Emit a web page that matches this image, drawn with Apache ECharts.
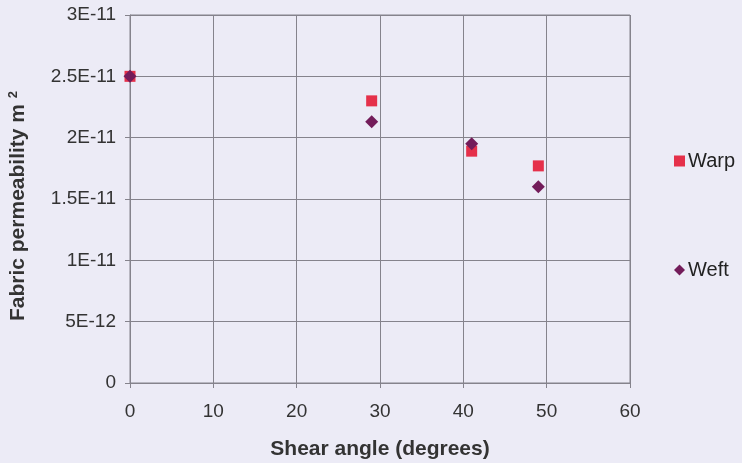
<!DOCTYPE html>
<html>
<head>
<meta charset="utf-8">
<script src="https://cdn.jsdelivr.net/npm/echarts@6/dist/echarts.min.js"></script>
<style>
  html, body { margin: 0; padding: 0; background: #ecebf6; }
  #chart { width: 742px; height: 463px; }
</style>
</head>
<body>
<div id="chart"></div>
<script>
// shear angle (degrees) and permeability (m^2)
const warpAngles = [0, 29, 41, 49];
const warpValues = [2.5e-11, 2.3e-11, 1.89e-11, 1.77e-11];
const weftAngles = [0, 29, 41, 49];
const weftValues = [2.5e-11, 2.13e-11, 1.95e-11, 1.6e-11];
const yTickLabels = ['0', '5E-12', '1E-11', '1.5E-11', '2E-11', '2.5E-11', '3E-11'];

const toPairs = (xs, ys) => xs.map((x, i) => [x, ys[i]]);

const chart = echarts.init(document.getElementById('chart'));
const font = 'Liberation Sans, Arial, sans-serif';
const gridColor = '#85838c';

chart.setOption({
  backgroundColor: '#ecebf6',
  animation: false,
  textStyle: { fontFamily: font },
  grid: {
    left: 130, right: 112, top: 15, bottom: 80,
    outerBoundsMode: 'none',
    show: true, borderColor: gridColor, borderWidth: 1
  },
  legend: {
    orient: 'vertical',
    left: 669,
    top: 146,
    itemGap: 89,
    itemWidth: 11,
    itemHeight: 11,
    textStyle: { fontSize: 20, color: '#222', fontFamily: font, padding: [0, 0, 0, -2] },
    data: [
      { name: 'Warp', icon: 'rect' },
      { name: 'Weft', icon: 'diamond' }
    ]
  },
  xAxis: {
    type: 'value',
    min: 0, max: 60, interval: 10,
    name: 'Shear angle (degrees)',
    nameLocation: 'middle',
    nameGap: 56,
    nameTextStyle: { fontSize: 21, fontWeight: 'bold', color: '#333', fontFamily: font },
    axisLine: { lineStyle: { color: gridColor } },
    axisTick: { show: true, length: 5, lineStyle: { color: gridColor } },
    axisLabel: { fontSize: 19, color: '#333', margin: 19, fontFamily: font },
    splitLine: { lineStyle: { color: gridColor, width: 1 } }
  },
  yAxis: {
    type: 'value',
    min: 0, max: 3e-11, interval: 5e-12,
    name: '{a|Fabric permeability m }{s|2}',
    nameLocation: 'middle',
    nameGap: 100,
    nameTextStyle: {
      padding: [0, 14, 0, 0],
      rich: {
        a: { fontSize: 21, fontWeight: 'bold', color: '#333', fontFamily: font },
        s: { fontSize: 13, fontWeight: 'bold', color: '#333', fontFamily: font, verticalAlign: 'top', padding: [0, 0, 10, 0] }
      }
    },
    axisLine: { show: true, lineStyle: { color: gridColor } },
    axisTick: { show: true, length: 5, lineStyle: { color: gridColor } },
    axisLabel: {
      fontSize: 19, color: '#333', margin: 14, fontFamily: font,
      formatter: v => yTickLabels[Math.round(v / 5e-12)]
    },
    splitLine: { lineStyle: { color: gridColor, width: 1 } }
  },
  series: [
    {
      name: 'Warp',
      type: 'scatter',
      symbol: 'rect',
      symbolSize: 11,
      itemStyle: { color: '#e5304a', opacity: 1 },
      data: toPairs(warpAngles, warpValues)
    },
    {
      name: 'Weft',
      type: 'scatter',
      symbol: 'diamond',
      symbolSize: 13,
      itemStyle: { color: '#731c5a', opacity: 1 },
      data: toPairs(weftAngles, weftValues)
    }
  ]
});
</script>
</body>
</html>
